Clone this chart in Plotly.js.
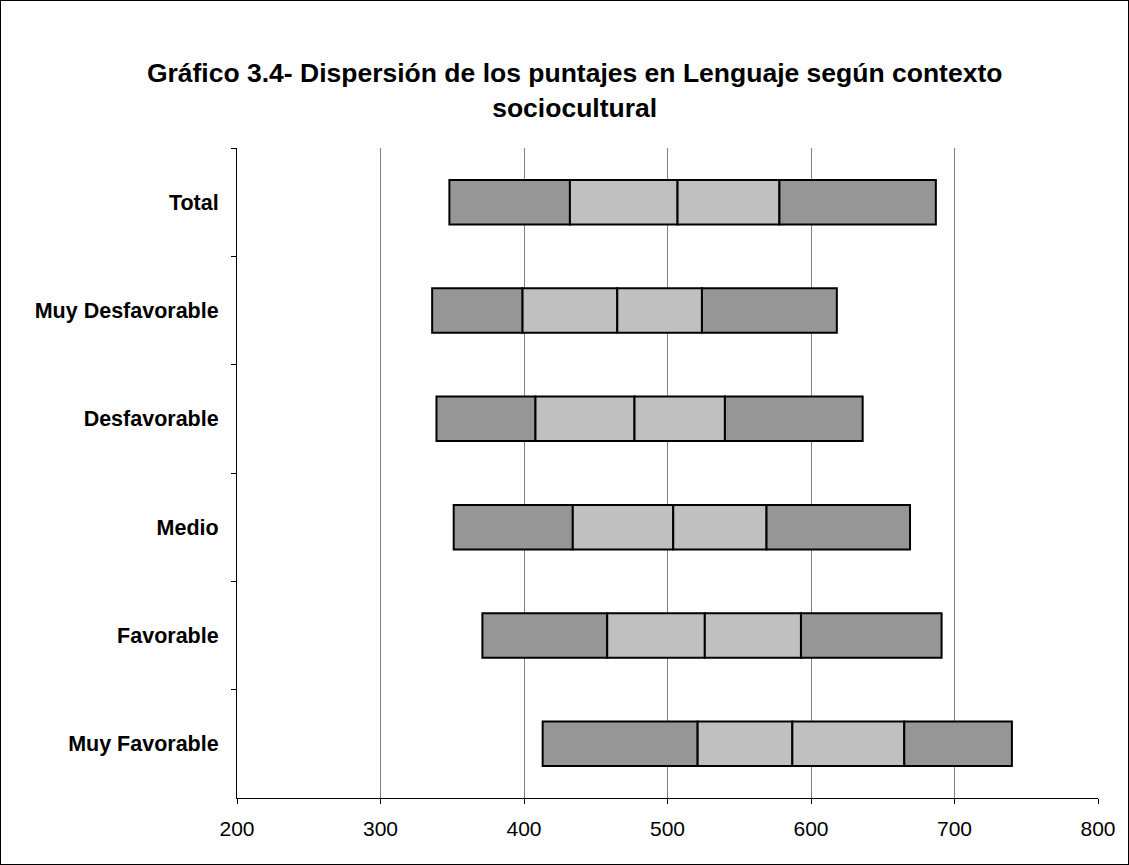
<!DOCTYPE html>
<html>
<head>
<meta charset="utf-8">
<script src="https://cdn.plot.ly/plotly-3.0.1.min.js"></script>
<style>
html,body{margin:0;padding:0;background:#fff;}
#wrap{position:relative;width:1129px;height:865px;}
#chart{position:absolute;left:0;top:0;width:1129px;height:865px;}
#frame{position:absolute;left:0;top:0;width:1129px;height:865px;box-sizing:border-box;border:1px solid #000;pointer-events:none;}
</style>
</head>
<body>
<div id="wrap"><div id="chart"></div><div id="frame"></div></div>
<script>
const categories = ["Total","Muy Desfavorable","Desfavorable","Medio","Favorable","Muy Favorable"];
const p5  = [348, 336, 339, 351, 371, 413];
const p25 = [432, 399, 408, 434, 458, 521];
const p50 = [507, 465, 477, 504, 526, 587];
const p75 = [578, 524, 540, 569, 593, 665];
const p95 = [687, 618, 636, 669, 691, 740];
const xTicks = [200, 300, 400, 500, 600, 700, 800];

const dark = "#969696", light = "#c0c0c0";
const segs = [[p5,p25,dark],[p25,p50,light],[p50,p75,light],[p75,p95,dark]];
const traces = segs.map(([a,b,c]) => ({
  type: "bar",
  orientation: "h",
  y: categories,
  base: a,
  x: b.map((v,i) => v - a[i]),
  marker: {color: c, line: {color: "#000", width: 2}},
  hoverinfo: "skip",
  showlegend: false
}));

const layout = {
  width: 1129, height: 865,
  margin: {l: 237, r: 31, t: 148, b: 67},
  paper_bgcolor: "#fff", plot_bgcolor: "#fff",
  barmode: "overlay",
  bargap: 0.59,
  font: {family: "Liberation Sans, Arial, sans-serif", color: "#000", size: 21},
  title: {
    text: "<b>Gráfico 3.4- Dispersión de los puntajes en Lenguaje según contexto<br>sociocultural</b>",
    font: {size: 26.5, family: "Liberation Sans, Arial, sans-serif", color: "#000"},
    x: 0.509, xanchor: "center", xref: "container",
    y: 0.905, yanchor: "middle", yref: "container"
  },
  xaxis: {
    range: [200, 800], tickvals: xTicks, ticktext: xTicks.map(String),
    showgrid: true, gridcolor: "#808080", gridwidth: 1,
    zeroline: false, showline: true, linecolor: "#000", linewidth: 1,
    ticks: "outside", ticklen: 5, tickcolor: "#000",
    ticklabelstandoff: 7,
    tickfont: {size: 21}, fixedrange: true
  },
  yaxis: {
    type: "category", categoryorder: "array", categoryarray: categories,
    autorange: "reversed",
    showline: true, linecolor: "#000", linewidth: 1,
    ticks: "outside", tickson: "boundaries", ticklen: 5, tickcolor: "#000",
    ticklabelstandoff: 13,
    tickfont: {size: 21.5, weight: "bold"}, showgrid: false, fixedrange: true
  }
};

Plotly.newPlot("chart", traces, layout, {displayModeBar: false, staticPlot: true});
</script>
</body>
</html>
